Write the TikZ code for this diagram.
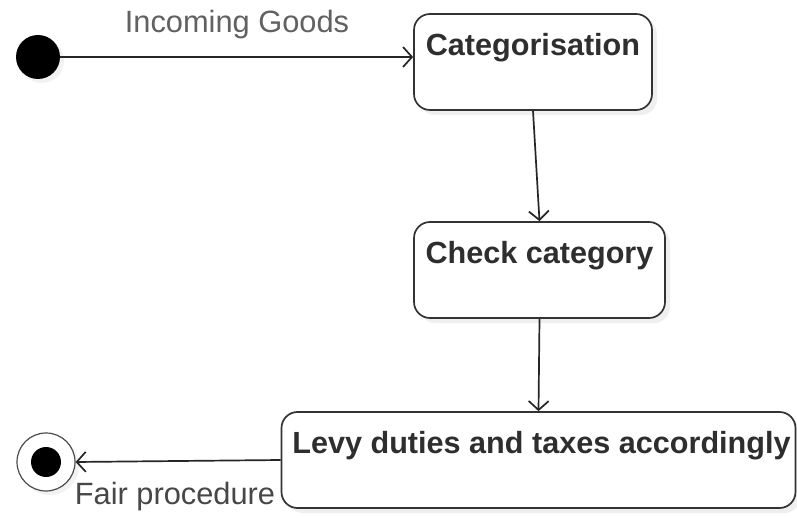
\documentclass[tikz,border=0pt]{standalone}
\usepackage{fontspec}
\setmainfont{Liberation Sans}
\usetikzlibrary{arrows.meta,shadows,calc}
\begin{document}
\begin{tikzpicture}[x=1pt,y=-1pt,
  edge/.style={draw=black!85, line width=1.7pt, -{Straight Barb[length=9pt,width=20pt,line width=1.7pt]}},
  state/.style={draw=black!80, line width=1.7pt, rounded corners=16pt, fill=white,
     drop shadow={shadow xshift=5pt, shadow yshift=-5pt, opacity=0.12}, inner sep=0pt},
  stname/.style={font=\fontsize{30.6}{35}\selectfont\bfseries, text=black!82, anchor=base, inner sep=0pt},
  elbl/.style={font=\fontsize{30.8}{35}\selectfont, inner sep=0pt}
]
\useasboundingbox (0,0) rectangle (797,518);
\fill[white] (0,0) rectangle (797,518);
% initial
\node[circle, fill=black, minimum size=44pt, inner sep=0pt,
  drop shadow={shadow xshift=4pt, shadow yshift=-4pt, opacity=0.10}] (init) at (38,57) {};
% states
\node[state, minimum width=238pt, minimum height=96pt] (cat) at (533,62) {};
\node[stname] (catT) at ([yshift=-42pt]cat.north) {Categorisation};
\node[state, minimum width=251pt, minimum height=96pt] (chk) at (539.5,270) {};
\node[stname] (chkT) at ([yshift=-42pt]chk.north) {Check category};
\node[state, minimum width=514pt, minimum height=96pt] (levy) at (538.5,460) {};
\node[stname] (levyT) at ([xshift=3pt,yshift=-42pt]levy.north) {Levy duties and taxes accordingly};
% final
\node[circle, draw=black!70, line width=1.2pt, fill=white, minimum size=58pt, inner sep=0pt,
  drop shadow={shadow xshift=4pt, shadow yshift=-4pt, opacity=0.10}] (final) at (46,462) {};
\node[circle, fill=black, minimum size=30pt, inner sep=0pt] (finalIn) at (final.center) {};
% edges
\draw[edge] (init.east) -- (init.east -| cat.west);
\draw[edge] (cat.south) -- (chk.north);
\draw[edge] (chk.south) -- (levy.north);
\draw[edge] (levy.west) -- (final.east);
% labels
\node[elbl, text=black!62] (lblIn) at (237,25) {Incoming Goods};
\node[elbl, text=black!72] (lblFair) at (175,497) {Fair procedure};
\end{tikzpicture}
\end{document}
